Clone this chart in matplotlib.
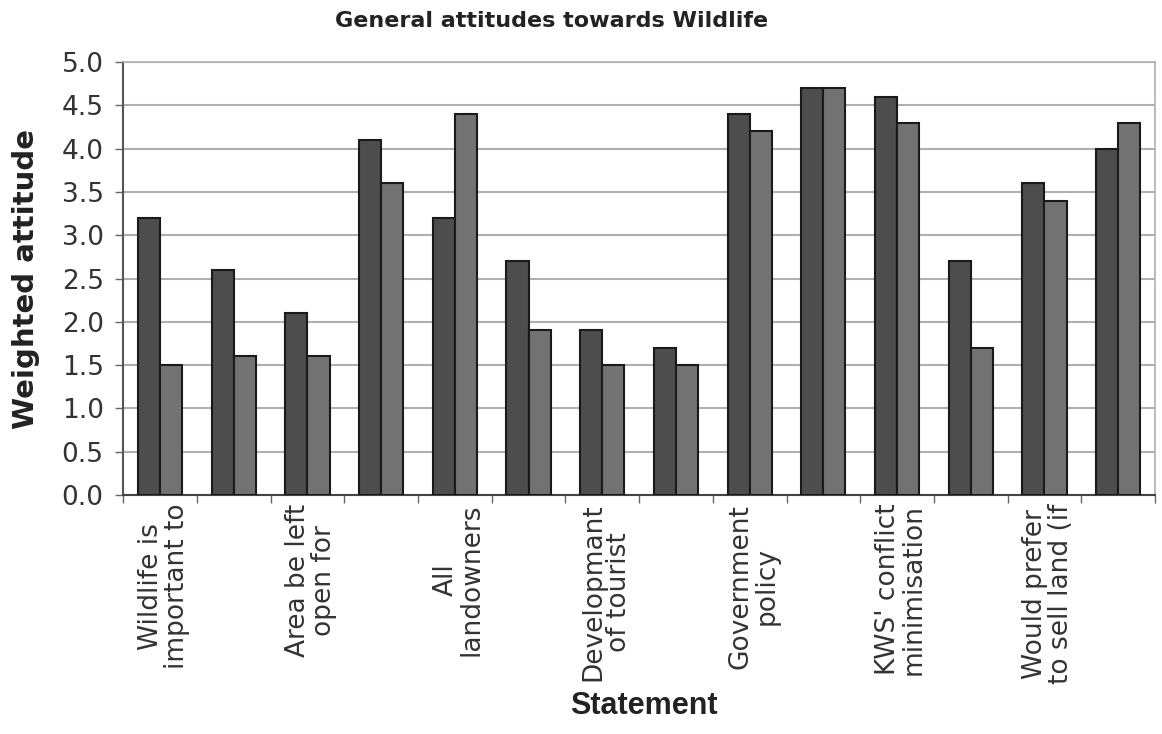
import numpy as np
import matplotlib.pyplot as plt

# weighted attitude per statement, two respondent groups
statements = ["Wildlife is\nimportant to", "", "Area be left\nopen for", "",
              "All\nlandowners", "", "Developmant\nof tourist", "",
              "Government\npolicy", "", "KWS' conflict\nminimisation", "",
              "Would prefer\nto sell land (if", ""]
group_a = [3.2, 2.6, 2.1, 4.1, 3.2, 2.7, 1.9, 1.7, 4.4, 4.7, 4.6, 2.7, 3.6, 4.0]
group_b = [1.5, 1.6, 1.6, 3.6, 4.4, 1.9, 1.5, 1.5, 4.2, 4.7, 4.3, 1.7, 3.4, 4.3]

plt.rcParams['font.family'] = ['DejaVu Sans']

fig = plt.figure(figsize=(11.62, 7.34), dpi=100)
ax = fig.add_axes([0.106, 0.3256, 0.888, 0.5899])

x = np.arange(len(group_a))
w = 0.3
ax.bar(x - w / 2, group_a, w, color='#4d4d4d', edgecolor='#1a1a1a', linewidth=1.5, zorder=3)
ax.bar(x + w / 2, group_b, w, color='#727272', edgecolor='#1a1a1a', linewidth=1.5, zorder=3)

ax.set_xlim(-0.5, len(group_a) - 0.5)
ax.set_ylim(0, 5)
yt = np.arange(0, 5.01, 0.5)
ax.set_yticks(yt)
ax.set_yticklabels([f"{v:.1f}" for v in yt], fontsize=19, color='#333333')
ax.yaxis.grid(True, color='#b0b0b0', linewidth=1.5, zorder=0)

# category boundaries get the tick marks, labels sit under the bar pairs
ax.set_xticks(np.arange(-0.5, len(group_a)))
ax.set_xticklabels([])
ax.tick_params(axis='x', length=6, width=1, color='#666666')
ax.tick_params(axis='y', length=6, width=1, color='#666666', pad=8)
for i, s in enumerate(statements):
    if s:
        ax.text(i + 0.05, -0.02, s, rotation=90, ha='center', va='top', fontsize=19,
                color='#333333', transform=ax.get_xaxis_transform(), linespacing=1.0)

for side in ['top', 'right']:
    ax.spines[side].set_color('#b0b0b0')
    ax.spines[side].set_linewidth(1.2)
ax.spines['left'].set_color('#555555')
ax.spines['bottom'].set_color('#444444')
ax.spines['left'].set_linewidth(1.5)
ax.spines['bottom'].set_linewidth(1.5)

ax.set_ylabel('Weighted attitude', fontsize=21, fontweight='bold', color='#222222', labelpad=16)
fig.text(0.475, 0.972, 'General attitudes towards Wildlife', ha='center', va='center',
         fontsize=16, fontweight='bold', color='#222222')
fig.text(0.554, 0.038, 'Statement', ha='center', va='center', fontsize=22,
         fontweight='bold', color='#222222', family=['Liberation Sans', 'DejaVu Sans'])

fig.savefig('out.png', dpi=100)
